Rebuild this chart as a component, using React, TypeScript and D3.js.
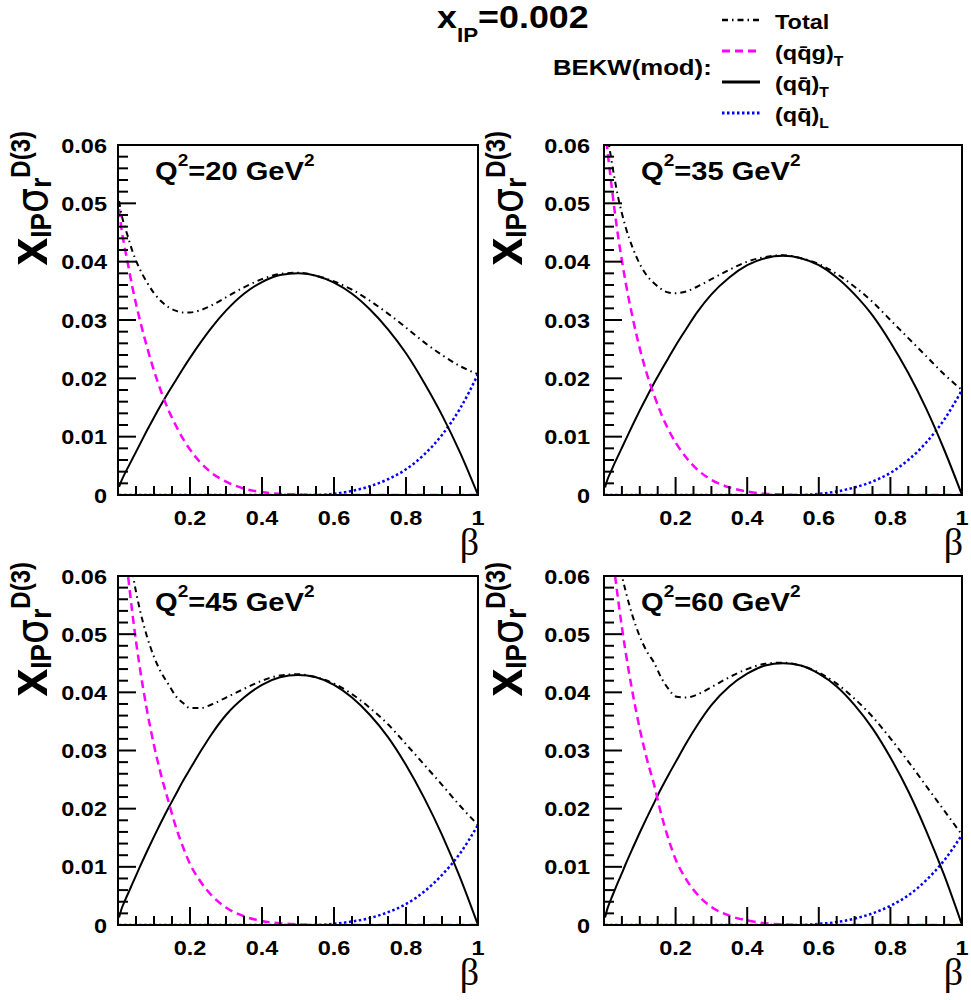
import React from "react";
import * as d3 from "d3";

// ---------- data ----------
const betaPts = [0.003, 0.01, 0.02, 0.03, 0.04, 0.05, 0.06, 0.08, 0.1, 0.12, 0.14, 0.16, 0.18, 0.2, 0.23, 0.26, 0.3, 0.35, 0.4, 0.45, 0.5, 0.55, 0.6, 0.65, 0.7, 0.75, 0.8, 0.85, 0.9, 0.95, 1.0];
const q2Values = [20, 35, 45, 60];

const qqg20 = [0.049, 0.0455, 0.042, 0.0388, 0.0356, 0.0328, 0.0302, 0.0255, 0.0213, 0.0177, 0.0146, 0.012, 0.0097, 0.0078, 0.0055, 0.0038, 0.0023, 0.0011, 0.0005, 0.0002, 0.0001, 0, 0, 0, 0, 0, 0, 0, 0, 0, 0];
const qqT20 = [0.0014, 0.0025, 0.0038, 0.005, 0.0062, 0.0074, 0.0086, 0.011, 0.0133, 0.0155, 0.0176, 0.0196, 0.0216, 0.0235, 0.0262, 0.0287, 0.0316, 0.0345, 0.0365, 0.0377, 0.038, 0.0376, 0.0364, 0.0345, 0.0318, 0.0284, 0.0243, 0.0193, 0.0137, 0.0073, 0];
const qqL20 = [0, 0, 0, 0, 0, 0, 0, 0, 0, 0, 0, 0, 0, 0, 0, 0, 0, 0, 0, 0, 0, 0, 0.0002, 0.0007, 0.0015, 0.0027, 0.0044, 0.0069, 0.0103, 0.0148, 0.0207];
const total20 = [0.0504, 0.048, 0.0458, 0.0438, 0.0418, 0.0402, 0.0388, 0.0365, 0.0346, 0.0332, 0.0322, 0.0316, 0.0313, 0.0313, 0.0317, 0.0325, 0.0339, 0.0356, 0.037, 0.0379, 0.0381, 0.0376, 0.0366, 0.0352, 0.0333, 0.0311, 0.0287, 0.0262, 0.024, 0.0221, 0.0207];

const qqg35 = [0.0629, 0.0589, 0.0536, 0.0486, 0.0441, 0.0402, 0.0366, 0.0304, 0.0251, 0.0207, 0.0171, 0.0139, 0.0112, 0.009, 0.0064, 0.0044, 0.0026, 0.0013, 0.0006, 0.0002, 0.0001, 0, 0, 0, 0, 0, 0, 0, 0, 0, 0];
const qqT35 = [0.0013, 0.0027, 0.0041, 0.0055, 0.0068, 0.0081, 0.0094, 0.012, 0.0145, 0.0169, 0.0192, 0.0214, 0.0235, 0.0256, 0.0285, 0.0313, 0.0344, 0.0373, 0.0394, 0.0406, 0.041, 0.0406, 0.0394, 0.0373, 0.0344, 0.0308, 0.0262, 0.0209, 0.0148, 0.0078, 0];
const qqL35 = [0, 0, 0, 0, 0, 0, 0, 0, 0, 0, 0, 0, 0, 0, 0, 0, 0, 0, 0, 0, 0, 0, 0.0002, 0.0006, 0.0013, 0.0023, 0.0038, 0.006, 0.009, 0.0129, 0.018];
const total35 = [0.0642, 0.0616, 0.0577, 0.0541, 0.0509, 0.0483, 0.046, 0.0424, 0.0396, 0.0376, 0.0363, 0.0353, 0.0347, 0.0346, 0.0349, 0.0357, 0.037, 0.0386, 0.04, 0.0408, 0.0411, 0.0406, 0.0396, 0.0379, 0.0357, 0.0331, 0.03, 0.0269, 0.0238, 0.0207, 0.018];

const qqg45 = [0.0754, 0.07, 0.0646, 0.0589, 0.0536, 0.0488, 0.0445, 0.0371, 0.0309, 0.0257, 0.0213, 0.017, 0.0135, 0.0105, 0.0074, 0.0051, 0.003, 0.0015, 0.0007, 0.0003, 0.0001, 0, 0, 0, 0, 0, 0, 0, 0, 0, 0];
const qqT45 = [0.0013, 0.0028, 0.0043, 0.0057, 0.0071, 0.0085, 0.0099, 0.0126, 0.0152, 0.0177, 0.0201, 0.0224, 0.0247, 0.0268, 0.0299, 0.0328, 0.0361, 0.0391, 0.0413, 0.0426, 0.043, 0.0426, 0.0413, 0.0391, 0.0361, 0.0323, 0.0275, 0.0219, 0.0155, 0.0082, 0];
const qqL45 = [0, 0, 0, 0, 0, 0, 0, 0, 0, 0, 0, 0, 0, 0, 0, 0, 0, 0, 0, 0, 0, 0, 0.0002, 0.0006, 0.0012, 0.0022, 0.0036, 0.0057, 0.0086, 0.0123, 0.0172];
const total45 = [0.0767, 0.0728, 0.0689, 0.0646, 0.0607, 0.0573, 0.0544, 0.0497, 0.0461, 0.0434, 0.0414, 0.0394, 0.0382, 0.0373, 0.0373, 0.0379, 0.0391, 0.0406, 0.042, 0.0429, 0.0431, 0.0426, 0.0415, 0.0397, 0.0373, 0.0345, 0.0311, 0.0276, 0.0241, 0.0205, 0.0172];

const qqg60 = [0.0756, 0.0717, 0.0656, 0.0605, 0.0557, 0.0512, 0.0471, 0.0399, 0.0337, 0.0285, 0.0241, 0.019, 0.0148, 0.0113, 0.0078, 0.0053, 0.0031, 0.0016, 0.0008, 0.0003, 0.0001, 0, 0, 0, 0, 0, 0, 0, 0, 0, 0];
const qqT60 = [0.0013, 0.0029, 0.0045, 0.006, 0.0075, 0.0089, 0.0104, 0.0132, 0.0159, 0.0185, 0.021, 0.0235, 0.0258, 0.028, 0.0313, 0.0343, 0.0378, 0.041, 0.0432, 0.0446, 0.045, 0.0446, 0.0432, 0.041, 0.0378, 0.0338, 0.0288, 0.023, 0.0162, 0.0086, 0];
const qqL60 = [0, 0, 0, 0, 0, 0, 0, 0, 0, 0, 0, 0, 0, 0, 0, 0, 0, 0, 0, 0, 0, 0, 0.0002, 0.0005, 0.0011, 0.002, 0.0033, 0.0051, 0.0077, 0.0111, 0.0155];
const total60 = [0.0769, 0.0746, 0.0701, 0.0665, 0.0632, 0.0601, 0.0575, 0.0531, 0.0496, 0.047, 0.0451, 0.0425, 0.0406, 0.0393, 0.0391, 0.0396, 0.0409, 0.0426, 0.044, 0.0449, 0.0451, 0.0446, 0.0434, 0.0415, 0.0389, 0.0358, 0.0321, 0.0281, 0.0239, 0.0197, 0.0155];

const xTickValues = [0.2, 0.4, 0.6, 0.8, 1];
const xTickLabels = ["0.2", "0.4", "0.6", "0.8", "1"];
const yTickValues = [0, 0.01, 0.02, 0.03, 0.04, 0.05, 0.06];
const yTickLabels = ["0", "0.01", "0.02", "0.03", "0.04", "0.05", "0.06"];

const panelSeries = [
  { total: total20, qqg: qqg20, qqT: qqT20, qqL: qqL20 },
  { total: total35, qqg: qqg35, qqT: qqT35, qqL: qqL35 },
  { total: total45, qqg: qqg45, qqT: qqT45, qqL: qqL45 },
  { total: total60, qqg: qqg60, qqT: qqT60, qqL: qqL60 },
];

// ---------- layout ----------
const W = 971;
const H = 1000;
const SX = 1.12;
const FONT = "'Liberation Sans', Arial, Helvetica, sans-serif";
const frames = [
  { left: 118, right: 478, top: 145, bottom: 495, titleX: 47, labGap: 11 },
  { left: 604, right: 962, top: 145, bottom: 495, titleX: 522, labGap: 14 },
  { left: 118, right: 478, top: 576, bottom: 925, titleX: 47, labGap: 11 },
  { left: 604, right: 962, top: 576, bottom: 925, titleX: 522, labGap: 14 },
];

const styles = {
  total: { stroke: "#000", width: 2, dash: "6,4,1.5,4" },
  qqg: { stroke: "#ff00ff", width: 2.5, dash: "8,5" },
  qqT: { stroke: "#000", width: 2, dash: "" },
  qqL: { stroke: "#0000ff", width: 2.5, dash: "2.5,2.5" },
};

function T(props: any) {
  const { x, y, anchor = "start", size, weight = "bold", family = FONT, children, sx = SX } = props;
  return (
    <g transform={`translate(${x},${y}) scale(${sx},1)`}>
      <text textAnchor={anchor} fontSize={size} fontWeight={weight} fontFamily={family} fill="#000">
        {children}
      </text>
    </g>
  );
}

function Panel({ idx }: { idx: number }) {
  const f = frames[idx];
  const s = panelSeries[idx];
  const x = d3.scaleLinear().domain([0, 1]).range([f.left, f.right]);
  const y = d3.scaleLinear().domain([0, 0.06]).range([f.bottom, f.top]);
  const mk = (vals: number[]) =>
    d3
      .line<number>()
      .x((_, i) => x(betaPts[i]))
      .y((d) => y(d))
      .curve(d3.curveMonotoneX)(vals) || "";
  const clipId = `clip${idx}`;
  const xMinor = d3.range(0, 21).map((i) => i * 0.05);
  const yMinor = d3.range(0, 31).map((i) => i * 0.002);
  const order: (keyof typeof styles)[] = ["qqL", "qqT", "qqg", "total"];
  return (
    <g>
      <defs>
        <clipPath id={clipId}>
          <rect x={f.left} y={f.top} width={f.right - f.left} height={f.bottom - f.top} />
        </clipPath>
      </defs>
      <g clipPath={`url(#${clipId})`}>
        {order.map((k) => (
          <path
            key={k}
            d={mk((s as any)[k])}
            fill="none"
            stroke={styles[k].stroke}
            strokeWidth={styles[k].width}
            strokeDasharray={styles[k].dash || undefined}
          />
        ))}
      </g>
      {xMinor.map((v, i) => {
        const major = i % 4 === 0;
        return (
          <line key={"xm" + i} x1={x(v)} x2={x(v)} y1={f.bottom} y2={f.bottom - (major ? 18 : 9)} stroke="#000" strokeWidth={2} />
        );
      })}
      {yMinor.map((v, i) => {
        const major = i % 5 === 0;
        return (
          <line key={"ym" + i} x1={f.left} x2={f.left + (major ? 18 : 10)} y1={y(v)} y2={y(v)} stroke="#000" strokeWidth={2} />
        );
      })}
      <rect x={f.left} y={f.top} width={f.right - f.left} height={f.bottom - f.top} fill="none" stroke="#000" strokeWidth={2} />
      {xTickValues.map((v, i) => (
        <T key={"xl" + i} x={x(v)} y={f.bottom + 30} anchor="middle" size={21}>
          {xTickLabels[i]}
        </T>
      ))}
      {yTickValues.map((v, i) => (
        <T key={"yl" + i} x={f.left - f.labGap} y={y(v) + 7.5} anchor="end" size={21}>
          {yTickLabels[i]}
        </T>
      ))}
      <T x={f.right + 1} y={f.bottom + 60} anchor="end" size={38} weight="normal" family="'Liberation Serif', 'DejaVu Serif', serif" sx={1.0}>
        β
      </T>
      <T x={f.left + 37} y={f.top + 35} size={26}>
        Q<tspan fontSize={17} dy={-14}>2</tspan>
        <tspan dy={14}>={q2Values[idx]} GeV</tspan>
        <tspan fontSize={17} dy={-14}>2</tspan>
      </T>
      <g transform={`translate(${f.titleX},${f.top - 14}) rotate(-90) scale(1,${SX})`}>
        <text textAnchor="end" fontFamily={FONT} fontWeight="bold" fill="#000">
          <tspan fontSize={50}>x</tspan>
          <tspan fontSize={26} dy={4}>IP</tspan>
          <tspan fontSize={40} dy={-4} fontFamily="'DejaVu Sans', sans-serif" fontWeight="normal">σ</tspan>
          <tspan fontSize={26} dy={4}>r</tspan>
          <tspan fontSize={24} dy={-19}>D(3)</tspan>
        </text>
      </g>
    </g>
  );
}

function LegendRow({ y, k, children }: any) {
  const st = (styles as any)[k];
  return (
    <g>
      <line x1={722} x2={760} y1={y} y2={y} stroke={st.stroke} strokeWidth={st.width + (k === "qqT" ? 1 : 0.5)} strokeDasharray={st.dash || undefined} />
      <T x={775} y={y + 9} size={21}>
        {children}
      </T>
    </g>
  );
}

export default function App() {
  return (
    <svg width={W} height={H} style={{ position: "absolute", left: 0, top: 0, background: "#fff" }}>
      <rect x={0} y={0} width={W} height={H} fill="#fff" />
      {[0, 1, 2, 3].map((i) => (
        <Panel key={i} idx={i} />
      ))}
      <T x={437} y={28} size={32}>
        x<tspan fontSize={20} dy={14}>IP</tspan>
        <tspan dy={-14}>=0.002</tspan>
      </T>
      <T x={553} y={75} size={23}>
        BEKW(mod):
      </T>
      <LegendRow y={20} k="total">Total</LegendRow>
      <LegendRow y={51} k="qqg">
        (qq̄g)<tspan fontSize={14} dy={6}>T</tspan>
      </LegendRow>
      <LegendRow y={82} k="qqT">
        (qq̄)<tspan fontSize={14} dy={6}>T</tspan>
      </LegendRow>
      <LegendRow y={113} k="qqL">
        (qq̄)<tspan fontSize={14} dy={6}>L</tspan>
      </LegendRow>
    </svg>
  );
}
